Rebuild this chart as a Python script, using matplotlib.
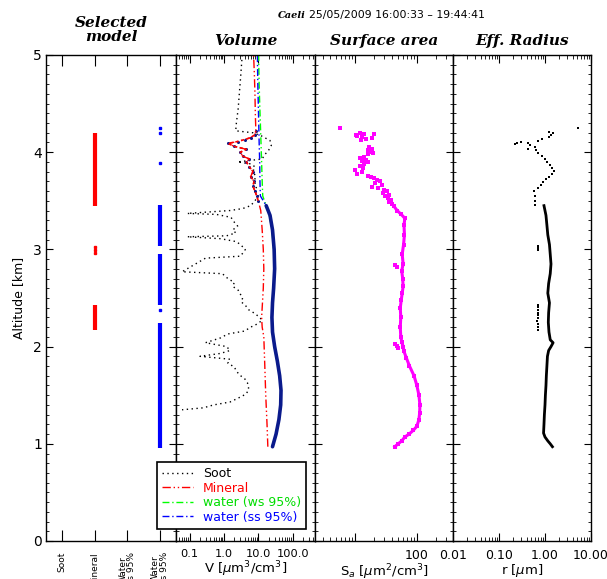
import numpy as np
import matplotlib
matplotlib.use('Agg')
import matplotlib.pyplot as plt
from matplotlib.ticker import LogLocator, NullFormatter, FixedLocator, MultipleLocator

# Selected model panel
categories = ['Soot', 'Mineral', 'Water\nws 95%', 'Water\nss 95%']
sel_mineral_ranges = [(3.45, 4.20), (2.17, 2.43)]
sel_mineral_pts = [2.96, 2.99, 3.02]
sel_ss_ranges = [(0.96, 2.24), (2.43, 2.95), (3.04, 3.46)]
sel_ss_pts = [2.38, 3.89, 4.20, 4.25]

# Volume panel [um3/cm3] vs altitude [km]
soot_alt = [5.00, 4.80, 4.60, 4.45, 4.30, 4.22, 4.20, 4.17, 4.12, 4.07, 4.02, 3.97,
            3.93, 3.90, 3.88, 3.85, 3.80, 3.75, 3.70, 3.65, 3.60, 3.55, 3.50, 3.45,
            3.42, 3.40, 3.37, 3.36, 3.33, 3.28, 3.24, 3.20, 3.17, 3.14, 3.13, 3.11,
            3.08, 3.05, 3.00, 2.96, 2.93, 2.91, 2.77, 2.75, 2.70, 2.66, 2.62, 2.58,
            2.54, 2.50, 2.46, 2.42, 2.38, 2.34, 2.30, 2.27, 2.23, 2.20, 2.16, 2.13,
            2.09, 2.04, 2.00, 1.96, 1.93, 1.90, 1.87, 1.83, 1.79, 1.75, 1.71, 1.67,
            1.63, 1.59, 1.55, 1.51, 1.47, 1.43, 1.40, 1.37, 1.35]
soot_v = [3.4, 3.1, 2.8, 2.6, 2.3, 2.2, 7.0, 12, 22, 24, 20, 15,
          13, 2.5, 6, 8, 7, 8.5, 7.5, 9, 8, 10, 8, 6,
          3.5, 1.5, 0.085, 0.6, 1.6, 2.0, 2.5, 1.8, 2.2, 1.2, 0.085, 0.8,
          2.3, 3.0, 4.2, 3.5, 3.0, 0.29, 0.06, 0.9, 1.3, 2.0, 1.8, 2.6,
          3.0, 3.5, 3.2, 4.3, 5.2, 8, 11, 13, 9, 6, 4, 1.3,
          0.8, 0.29, 1.2, 1.5, 0.8, 0.2, 1.5, 1.3, 2.0, 2.3, 2.8, 4.0,
          4.8, 5.2, 5.2, 4.3, 2.6, 1.5, 0.5, 0.25, 0.06]

min_alt = [0.97, 1.20, 1.50, 1.80, 2.10, 2.20, 2.30, 2.40, 2.60, 2.80, 3.00, 3.20,
           3.40, 3.50, 3.55, 3.60, 3.65, 3.70, 3.75, 3.80, 3.85, 3.90, 3.93, 3.96,
           4.00, 4.03, 4.06, 4.09, 4.11, 4.13, 4.15, 4.18, 4.22, 4.40, 4.60, 4.80, 5.00]
min_v = [19, 18, 16.5, 15.5, 14.5, 13, 12.5, 13, 14, 14.5, 14, 13,
         11.8, 10, 9, 8, 7, 7.5, 6, 7, 5.5, 4.5, 5.5, 3.5,
         3.0, 4.5, 2.0, 1.3, 2.5, 4.0, 6, 8.0, 8.5, 8.2, 8.0, 7.7, 7.3]

ws_alt = [0.97, 1.10, 1.25, 1.40, 1.55, 1.70, 1.85, 2.00, 2.15, 2.30, 2.45, 2.60,
          2.80, 3.00, 3.20, 3.35, 3.45, 3.55, 3.70, 3.90, 4.10, 4.30, 4.50, 4.70, 5.00]
ws_v = [25, 32, 39, 44, 45, 41, 35, 29, 25.5, 24.5, 25.5, 27.5,
        29, 28, 25, 21, 17, 13.5, 13, 12.5, 12, 11.5, 11.0, 10.6, 10.2]

ss_alt = [0.97, 1.10, 1.25, 1.40, 1.55, 1.70, 1.85, 2.00, 2.15, 2.30, 2.45, 2.60,
          2.80, 3.00, 3.20, 3.35, 3.45, 3.55, 3.70, 3.90, 4.10, 4.30, 4.50, 4.70, 5.00]
ss_v = [26, 33, 40, 45, 46, 42, 36, 30, 26, 25, 26, 28,
        30, 29, 26, 22, 17, 11.5, 11.2, 11.0, 10.6, 10.3, 10.0, 9.7, 9.4]

# Surface area [um2/cm3]
sa_line_alt = [0.97, 1.00, 1.03, 1.07, 1.10, 1.14, 1.18, 1.25, 1.32, 1.40, 1.50, 1.60,
               1.70, 1.80, 1.88, 1.95, 2.00, 2.05, 2.10, 2.20, 2.30, 2.40, 2.48, 2.55,
               2.62, 2.70, 2.78, 2.85, 2.95, 3.05, 3.15, 3.25, 3.32, 3.36, 3.40, 3.45]
sa_line = [44, 50, 57, 64, 75, 88, 100, 108, 111, 112, 108, 100,
           90, 76, 68, 62, 60, 57, 55, 54, 55, 54, 56, 58,
           60, 59, 57, 60, 58, 61, 63, 62, 64, 56, 48, 42]
sa_pts_alt = [2.03, 2.01, 1.99, 2.84, 2.82,
              4.25, 4.20, 4.19, 4.18, 4.17, 4.16, 4.14, 4.15, 4.19, 4.13, 4.05, 4.03,
              4.02, 4.00, 3.98, 3.99, 3.95, 3.94, 3.92, 3.91, 3.90, 3.88, 3.86, 3.84,
              3.82, 3.80, 3.78, 3.76, 3.74, 3.73, 3.71, 3.70, 3.68, 3.66, 3.64, 3.63,
              3.61, 3.60, 3.58, 3.56, 3.55, 3.53, 3.51, 3.49, 3.47]
sa_pts = [45, 47, 50, 45, 47,
          5.7, 12, 14, 10.5, 11, 13, 15, 19, 20, 12.5, 17, 19,
          16, 18, 16, 19.5, 14, 12, 15, 13, 16, 14, 12, 13.5,
          10, 13, 11, 16, 18, 20, 23, 25, 21, 27, 19, 24,
          30, 33, 28, 36, 31, 34, 38, 36, 40]

# Effective radius [um]
r_line_alt = [0.97, 1.00, 1.03, 1.07, 1.11, 1.20, 1.30, 1.40, 1.50, 1.60, 1.70, 1.80,
              1.90, 1.96, 2.00, 2.04, 2.07, 2.15, 2.25, 2.35, 2.45, 2.55, 2.65, 2.75,
              2.85, 2.95, 3.05, 3.15, 3.25, 3.35, 3.45]
r_line = [1.45, 1.3, 1.15, 1.0, 0.93, 0.95, 0.97, 1.0, 1.02, 1.05, 1.07, 1.1,
          1.13, 1.2, 1.35, 1.5, 1.3, 1.22, 1.18, 1.2, 1.25, 1.15, 1.2, 1.3,
          1.35, 1.3, 1.25, 1.15, 1.1, 1.05, 0.95]
r_pts_alt = [2.17, 2.20, 2.23, 2.26, 2.29, 2.32, 2.35, 2.38, 2.41, 2.43,
             2.99, 3.01, 3.03,
             3.46, 3.50, 3.55, 3.60, 3.63, 3.66, 3.69, 3.72, 3.75, 3.78, 3.81, 3.84,
             3.87, 3.90, 3.93, 3.96, 3.99, 4.02, 4.05, 4.07, 4.09, 4.10, 4.08, 4.09,
             4.12, 4.14, 4.16, 4.18, 4.20, 4.21, 4.25, 4.03]
r_pts = [0.70, 0.69, 0.71, 0.68, 0.70, 0.72, 0.69, 0.70, 0.71, 0.70,
         0.7, 0.7, 0.7,
         0.62, 0.62, 0.6, 0.58, 0.72, 0.8, 0.9, 1.05, 1.2, 1.45, 1.6, 1.4,
         1.3, 1.1, 1.0, 0.85, 0.72, 0.65, 0.6, 0.48, 0.42, 0.3, 0.22, 0.25,
         0.7, 0.85, 1.2, 1.35, 1.5, 1.2, 5.1, 0.42]

W, H = 607, 579
fig = plt.figure(figsize=(W/100, H/100), dpi=100)

def panel(left, right):
    return fig.add_axes([left/W, 1-541/H, (right-left)/W, 486/H])

ax1 = panel(46, 176)
ax2 = panel(176, 315)
ax3 = panel(315, 453)
ax4 = panel(453, 591)

title_kw = dict(family='DejaVu Serif', style='italic', weight='bold', fontsize=11)

for ax in (ax1, ax2, ax3, ax4):
    ax.set_ylim(0, 5)
    ax.yaxis.set_major_locator(MultipleLocator(1))
    ax.yaxis.set_minor_locator(MultipleLocator(0.1))
    ax.tick_params(axis='y', which='both', direction='in', left=True, right=True)
    ax.tick_params(axis='y', which='major', length=5)
    ax.tick_params(axis='y', which='minor', length=2.5)
    for s in ax.spines.values():
        s.set_linewidth(1.0)
    if ax is not ax1:
        ax.set_yticklabels([])

# Selected model
for lo, hi in sel_mineral_ranges:
    ax1.vlines(1, lo, hi, color='red', lw=3)
ax1.plot([1]*len(sel_mineral_pts), sel_mineral_pts, 's', color='red', ms=2)
for lo, hi in sel_ss_ranges:
    ax1.vlines(3, lo, hi, color='blue', lw=3)
ax1.plot([3]*len(sel_ss_pts), sel_ss_pts, 's', color='blue', ms=2)
ax1.set_xlim(-0.5, 3.5)
ax1.set_xticks(range(4))
ax1.set_xticklabels(categories, rotation=90, fontsize=6.5, va='top', linespacing=1.0)
ax1.tick_params(axis='x', direction='in', length=8, top=True, pad=8)
ax1.tick_params(axis='y', labelsize=10, pad=3)
ax1.set_ylabel('Altitude [km]', fontsize=9, labelpad=6)
ax1.set_title('Selected\nmodel', pad=10, linespacing=1.05, **title_kw)

# Volume
ss_alt_a = np.array(ss_alt)
ss_v_a = np.array(ss_v)
min_alt_a = np.array(min_alt)
min_v_a = np.array(min_v)
ax2.plot(soot_v, soot_alt, color='black', ls=(0, (1, 2.5)), lw=1.0, label='Soot')
ax2.plot(min_v, min_alt, color='red', ls=(0, (6, 2, 1, 2, 1, 2)), lw=1.0, label='Mineral')
ax2.plot(ws_v, ws_alt, color='#00ff00', ls=(0, (5, 2, 1, 2)), lw=1.0, label='water (ws 95%)')
ax2.plot(ss_v, ss_alt, color='blue', ls=(0, (5, 2, 1, 2)), lw=1.0, label='water (ss 95%)')
# selected model overlay
m = ss_alt_a <= 3.45
ax2.plot(ss_v_a[m], ss_alt_a[m], color='#0a1a8c', lw=2.6, solid_capstyle='round')
mm = (min_alt_a >= 3.5) & (min_alt_a <= 4.22)
ax2.plot(min_v_a[mm], min_alt_a[mm], 'o', color='#0a1a8c', ms=2.2, mew=0)
ax2.plot(min_v_a[mm], min_alt_a[mm], color='red', ls=(0, (2, 1.5)), lw=1.2)
ax2.set_xscale('log')
ax2.set_xlim(0.04, 450)
ax2.xaxis.set_major_locator(FixedLocator([0.1, 1, 10, 100]))
ax2.set_xticklabels(['0.1', '1.0', '10.0', '100.0'])
ax2.xaxis.set_minor_locator(LogLocator(subs=range(2, 10)))
ax2.xaxis.set_minor_formatter(NullFormatter())
ax2.set_xlabel(r'V [$\mu$m$^3$/cm$^3$]', fontsize=9.5, labelpad=0)
ax2.set_title('Volume', pad=7, **title_kw)

leg = ax2.legend(loc='upper left', bbox_to_anchor=(157/W, 1-462/H),
                 bbox_transform=fig.transFigure, fontsize=9, frameon=True,
                 fancybox=False, framealpha=1, edgecolor='black',
                 handlelength=2.5, labelspacing=0.12, borderpad=0.4,
                 handletextpad=0.8, borderaxespad=0)
leg.get_frame().set_linewidth(1.2)
for txt, c in zip(leg.get_texts(), ['black', 'red', '#00dd00', 'blue']):
    txt.set_color(c)

# Surface area
ax3.plot(sa_line, sa_line_alt, color='magenta', lw=2.2)
ax3.plot(sa_line, sa_line_alt, 's', color='magenta', ms=2.2, mew=0)
ax3.plot(sa_pts, sa_pts_alt, 's', color='magenta', ms=2.4, mew=0)
ax3.set_xscale('log')
ax3.set_xlim(2.27, 383)
ax3.xaxis.set_major_locator(FixedLocator([10, 100]))
ax3.set_xticklabels(['', '100'])
ax3.xaxis.set_minor_locator(LogLocator(subs=range(2, 10)))
ax3.xaxis.set_minor_formatter(NullFormatter())
ax3.set_xlabel(r'S$_a$ [$\mu$m$^2$/cm$^3$]', fontsize=9.5, labelpad=0)
ax3.set_title('Surface area', pad=7, **title_kw)

# Effective radius
ax4.plot(r_line, r_line_alt, color='black', lw=2.0)
ax4.plot(r_pts, r_pts_alt, 's', color='black', ms=2.0, mew=0)
ax4.set_xscale('log')
ax4.set_xlim(0.01, 10)
ax4.xaxis.set_major_locator(FixedLocator([0.01, 0.1, 1, 10]))
ax4.set_xticklabels(['0.01', '0.10', '1.00', '10.00'])
ax4.xaxis.set_minor_locator(LogLocator(subs=range(2, 10)))
ax4.xaxis.set_minor_formatter(NullFormatter())
ax4.set_xlabel(r'r [$\mu$m]', fontsize=9.5, labelpad=0)
ax4.set_title('Eff. Radius', pad=7, **title_kw)

for ax in (ax2, ax3, ax4):
    ax.tick_params(axis='x', which='both', direction='in', top=True, bottom=True,
                   labelsize=9, pad=6)
    ax.tick_params(axis='x', which='major', length=6)
    ax.tick_params(axis='x', which='minor', length=3)
ax2.tick_params(axis='x', labelsize=8.2)

fig.text(306/W, 1-15/H, 'Caeli', ha='right', va='center', fontsize=7,
         family='DejaVu Serif', style='italic', weight='bold')
fig.text(309/W, 1-15/H, '25/05/2009 16:00:33 \u2013 19:44:41', ha='left',
         va='center', fontsize=7.8)

fig.savefig('out.png', dpi=100)
